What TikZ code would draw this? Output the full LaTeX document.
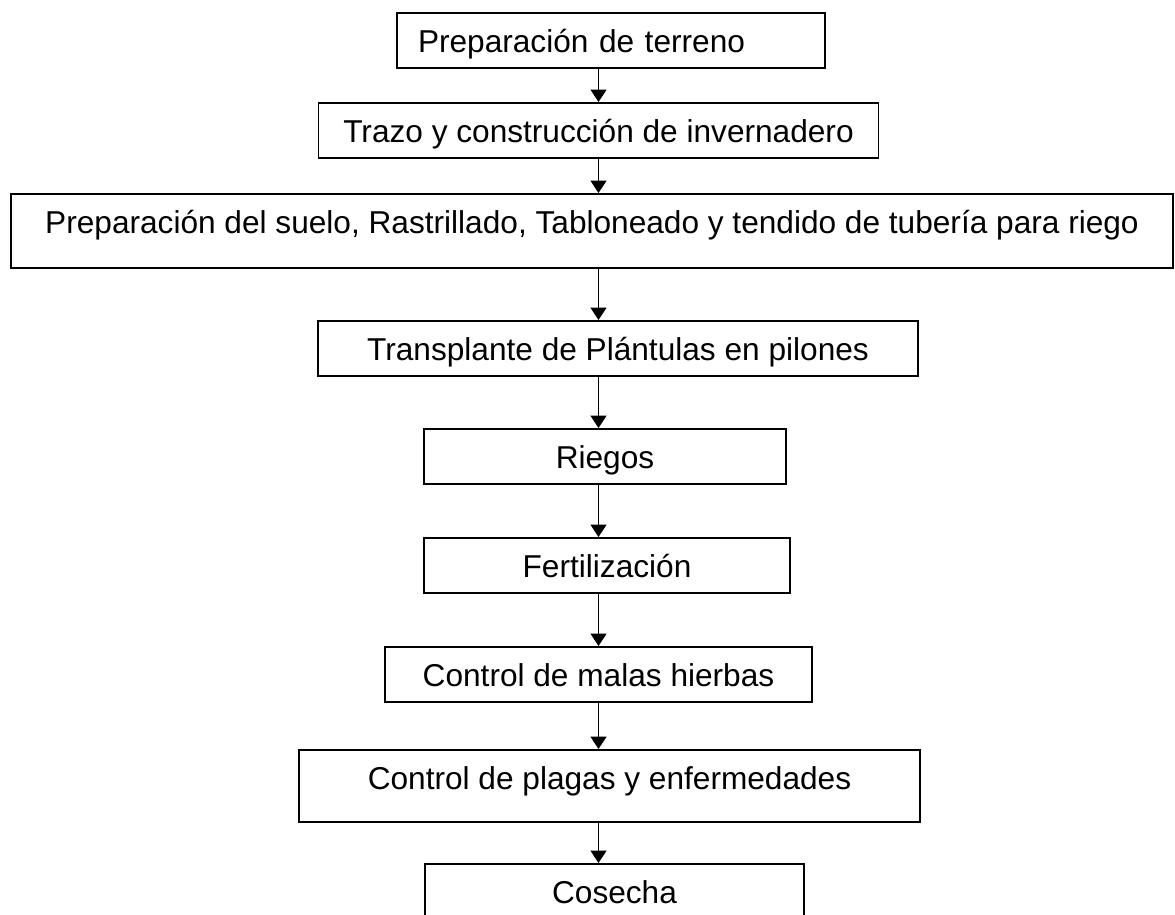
\documentclass[tikz,border=0pt]{standalone}
\usepackage{fontspec}
\setmainfont{Liberation Sans}
\usetikzlibrary{arrows.meta,positioning}
\newlength{\pxu}
\setlength{\pxu}{0.02cm}

\begin{document}
\begin{tikzpicture}[x=0.02cm,y=-0.02cm,
stepbox/.style={draw,rectangle,line width=1pt,anchor=north,inner xsep=0pt,inner ysep=0pt,
    text height=40\pxu,text depth=15\pxu,font=\fontsize{18}{21}\selectfont},
flow/.style={-{Triangle[length=7pt,width=9pt]},line width=0.8pt}]
\useasboundingbox (0,0) rectangle (1175,914);
\coordinate (ax) at (598.5,0);

\node (terreno) [stepbox,minimum width=428\pxu,text width=386\pxu,inner xsep=21\pxu,align=left]
    at (611,12) {Preparación de terreno};
\node (trazo) [stepbox,minimum width=560\pxu] at (598.5,102) {Trazo y construcción de invernadero};
\node (suelo) [stepbox,minimum width=1162\pxu,text depth=34\pxu] at (592,193)
    {Preparación del suelo, Rastrillado, Tabloneado y tendido de tubería para riego};
\node (transplante) [stepbox,minimum width=600\pxu] at (618,320) {Transplante de Plántulas en pilones};
\node (riegos) [stepbox,minimum width=361.5\pxu] at (605,428) {Riegos};
\node (fertil) [stepbox,minimum width=365.5\pxu] at (607,537) {Fertilización};
\node (malas) [stepbox,minimum width=427\pxu] at (598.5,646) {Control de malas hierbas};
\node (plagas) [stepbox,minimum width=621\pxu,text depth=32\pxu] at (609.5,749)
    {Control de plagas y enfermedades};
\node (cosecha) [stepbox,minimum width=379\pxu] at (614.5,863) {Cosecha};

\draw [flow] (terreno.south -| ax) -- (trazo.north -| ax);
\draw [flow] (trazo.south -| ax) -- (suelo.north -| ax);
\draw [flow] (suelo.south -| ax) -- (transplante.north -| ax);
\draw [flow] (transplante.south -| ax) -- (riegos.north -| ax);
\draw [flow] (riegos.south -| ax) -- (fertil.north -| ax);
\draw [flow] (fertil.south -| ax) -- (malas.north -| ax);
\draw [flow] (malas.south -| ax) -- (plagas.north -| ax);
\draw [flow] (plagas.south -| ax) -- (cosecha.north -| ax);
\end{tikzpicture}
\end{document}
